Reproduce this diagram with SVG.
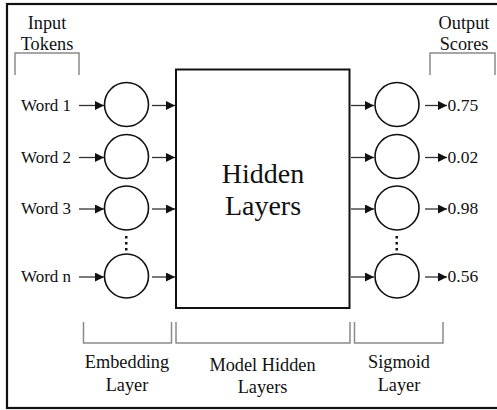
<svg xmlns="http://www.w3.org/2000/svg" width="497" height="410" viewBox="0 0 497 410">
<defs>
<style>
text{font-family:"Times New Roman","Liberation Serif",Tinos,"DejaVu Serif",serif;font-size:17px;fill:#111}
.c{text-anchor:middle}
.h{font-size:18.3px}
.n{font-size:17.5px}
.br{fill:none;stroke:#8a8a8a;stroke-width:1.5}
.node{fill:#fff;stroke:#111;stroke-width:1.6}
.arr{stroke:#333;stroke-width:1.3;fill:none;marker-end:url(#ah)}
.dot{fill:#111}
</style>
<marker id="ah" viewBox="0 0 10 10" refX="10" refY="5" markerWidth="10" markerHeight="9" markerUnits="userSpaceOnUse" orient="auto">
<path d="M0,0 L10,5 L0,10 z" fill="#111"/>
</marker>
</defs>
<rect x="7" y="4" width="500" height="404" fill="#fff" stroke="#111" stroke-width="2.2"/>

<g id="labels-top">
<text class="c h" x="47" y="29">Input</text>
<text class="c h" x="47" y="50">Tokens</text>
<path class="br" d="M15,75 V53 H79 V75"/>
<text class="c h" x="464" y="29">Output</text>
<text class="c h" x="464" y="50">Scores</text>
<path class="br" d="M430,75 V53 H495 V75"/>
</g>

<g id="inputs">
<text x="21" y="111">Word 1</text>
<text x="21" y="163">Word 2</text>
<text x="21" y="214">Word 3</text>
<text x="21" y="282">Word n</text>
</g>

<g id="embedding">
<circle class="node" cx="126.5" cy="104.5" r="22"/>
<circle class="node" cx="126.5" cy="156.5" r="22"/>
<circle class="node" cx="126.5" cy="208" r="22"/>
<circle class="node" cx="126.5" cy="276" r="22"/>
<rect class="dot" x="125" y="236" width="2.5" height="2.5"/>
<rect class="dot" x="125" y="242" width="2.5" height="2.5"/>
<rect class="dot" x="125" y="248" width="2.5" height="2.5"/>
</g>

<g id="hidden">
<rect x="176" y="69.5" width="173.5" height="238.5" fill="#fff" stroke="#111" stroke-width="2"/>
<text class="c" x="263" y="183" style="font-size:28px">Hidden</text>
<text class="c" x="263" y="215" style="font-size:28px">Layers</text>
</g>

<g id="sigmoid">
<circle class="node" cx="397" cy="104.5" r="22"/>
<circle class="node" cx="397" cy="156.5" r="22"/>
<circle class="node" cx="397" cy="208" r="22"/>
<circle class="node" cx="397" cy="276" r="22"/>
<rect class="dot" x="395.5" y="236" width="2.5" height="2.5"/>
<rect class="dot" x="395.5" y="242" width="2.5" height="2.5"/>
<rect class="dot" x="395.5" y="248" width="2.5" height="2.5"/>
</g>

<g id="outputs">
<text class="n" x="447.5" y="111">0.75</text>
<text class="n" x="447.5" y="163">0.02</text>
<text class="n" x="447.5" y="214">0.98</text>
<text class="n" x="447.5" y="282">0.56</text>
</g>

<g id="connectors">
<line class="arr" x1="79" y1="105.5" x2="104" y2="105.5"/>
<line class="arr" x1="79" y1="157.5" x2="104" y2="157.5"/>
<line class="arr" x1="79" y1="209" x2="104" y2="209"/>
<line class="arr" x1="79" y1="277" x2="104" y2="277"/>
<line class="arr" x1="152" y1="105.5" x2="175" y2="105.5"/>
<line class="arr" x1="152" y1="157.5" x2="175" y2="157.5"/>
<line class="arr" x1="152" y1="209" x2="175" y2="209"/>
<line class="arr" x1="152" y1="277" x2="175" y2="277"/>
<line class="arr" x1="351" y1="105.5" x2="374" y2="105.5"/>
<line class="arr" x1="351" y1="157.5" x2="374" y2="157.5"/>
<line class="arr" x1="351" y1="209" x2="374" y2="209"/>
<line class="arr" x1="351" y1="277" x2="374" y2="277"/>
<line class="arr" x1="425" y1="105.5" x2="447" y2="105.5"/>
<line class="arr" x1="425" y1="157.5" x2="447" y2="157.5"/>
<line class="arr" x1="425" y1="209" x2="447" y2="209"/>
<line class="arr" x1="425" y1="277" x2="447" y2="277"/>
</g>

<g id="labels-bottom">
<path class="br" d="M83.5,322 V343 H171.5 V322"/>
<path class="br" d="M176,322 V343 H350 V322"/>
<path class="br" d="M354.5,322 V343 H443 V322"/>
<text class="c h" x="127" y="368">Embedding</text>
<text class="c h" x="127" y="391">Layer</text>
<text class="c h" x="262.5" y="371">Model Hidden</text>
<text class="c h" x="262.5" y="393">Layers</text>
<text class="c h" x="399" y="368">Sigmoid</text>
<text class="c h" x="399" y="391">Layer</text>
</g>
</svg>
